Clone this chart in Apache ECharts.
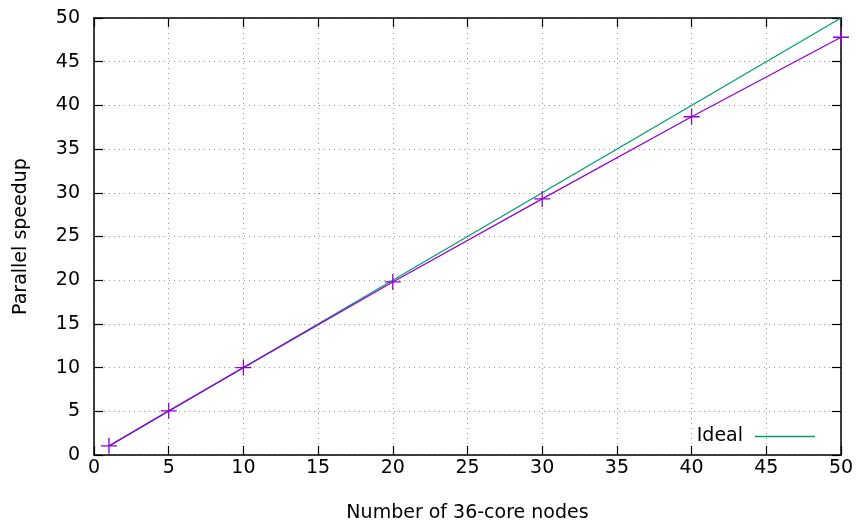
<!DOCTYPE html>
<html>
<head>
<meta charset="utf-8">
<script src="https://cdn.jsdelivr.net/npm/echarts@6/dist/echarts.min.js"></script>
<style>
  html, body { margin: 0; padding: 0; background: #fff; }
  #chart { width: 860px; height: 529px; }
</style>
</head>
<body>
<div id="chart"></div>
<script>
// measured speedup vs number of nodes
let nodes = [1, 5, 10, 20, 30, 40, 50]
let speedup = [1.05, 5.05, 10.0, 19.8, 29.3, 38.7, 47.8]
// ideal line
let idealNodes = [1, 50]
let idealSpeedup = [1, 50]

var chart = echarts.init(document.getElementById('chart'))
let font = 'DejaVu Sans'
let fs = 19

function boxAxis(pos, showLabel, margin) {
  return {
    type: 'value',
    position: pos,
    min: 0,
    max: 50,
    interval: 5,
    axisLine: { show: true, onZero: false, lineStyle: { color: '#000', width: 1.5 } },
    axisTick: { show: true, inside: true, length: 9, lineStyle: { color: '#000', width: 1.2 } },
    axisLabel: { show: showLabel, color: '#000', fontFamily: font, fontSize: fs, margin: margin || 8 },
    splitLine: { show: false }
  }
}

let xMain = boxAxis('bottom', true, 4)
xMain.name = 'Number of 36-core nodes'
xMain.nameLocation = 'middle'
xMain.nameGap = 49
xMain.nameTextStyle = { color: '#000', fontFamily: font, fontSize: fs }
xMain.splitLine = { show: true, lineStyle: { color: '#999', type: [1, 4], width: 1 } }

let yMain = boxAxis('left', true, 14)
yMain.name = 'Parallel speedup'
yMain.nameLocation = 'middle'
yMain.nameGap = 63
yMain.nameTextStyle = { color: '#000', fontFamily: font, fontSize: fs }
yMain.splitLine = { show: true, lineStyle: { color: '#999', type: [1, 4], width: 1 } }

let option = {
  animation: false,
  backgroundColor: '#fff',
  grid: { left: 94, right: 19, top: 18, bottom: 74 },
  xAxis: [xMain, boxAxis('top', false)],
  yAxis: [yMain, boxAxis('right', false)],
  legend: {
    data: [{ name: 'Ideal', icon: 'path://M0,0L60,0L60,1.5L0,1.5Z', itemStyle: { color: '#009e73' } }],
    right: 45,
    top: 427,
    padding: 0,
    align: 'right',
    itemWidth: 60,
    itemHeight: 1.5,
    textStyle: { color: '#000', fontFamily: font, fontSize: fs, padding: [0, 7, 0, 0] }
  },
  series: [
    {
      name: 'Ideal',
      type: 'line',
      data: idealNodes.map((x, i) => [x, idealSpeedup[i]]),
      showSymbol: false,
      lineStyle: { color: '#009e73', width: 1.3 },
      itemStyle: { color: '#009e73' },
      z: 2
    },
    {
      name: 'measured',
      type: 'line',
      data: nodes.map((x, i) => [x, speedup[i]]),
      symbol: 'path://M0,5L10,5M5,0L5,10',
      symbolSize: 16,
      lineStyle: { color: '#9400d3', width: 1.3 },
      itemStyle: { color: 'none', borderColor: '#9400d3', borderWidth: 1.3 },
      z: 3
    }
  ]
}

chart.setOption(option)
</script>
</body>
</html>
